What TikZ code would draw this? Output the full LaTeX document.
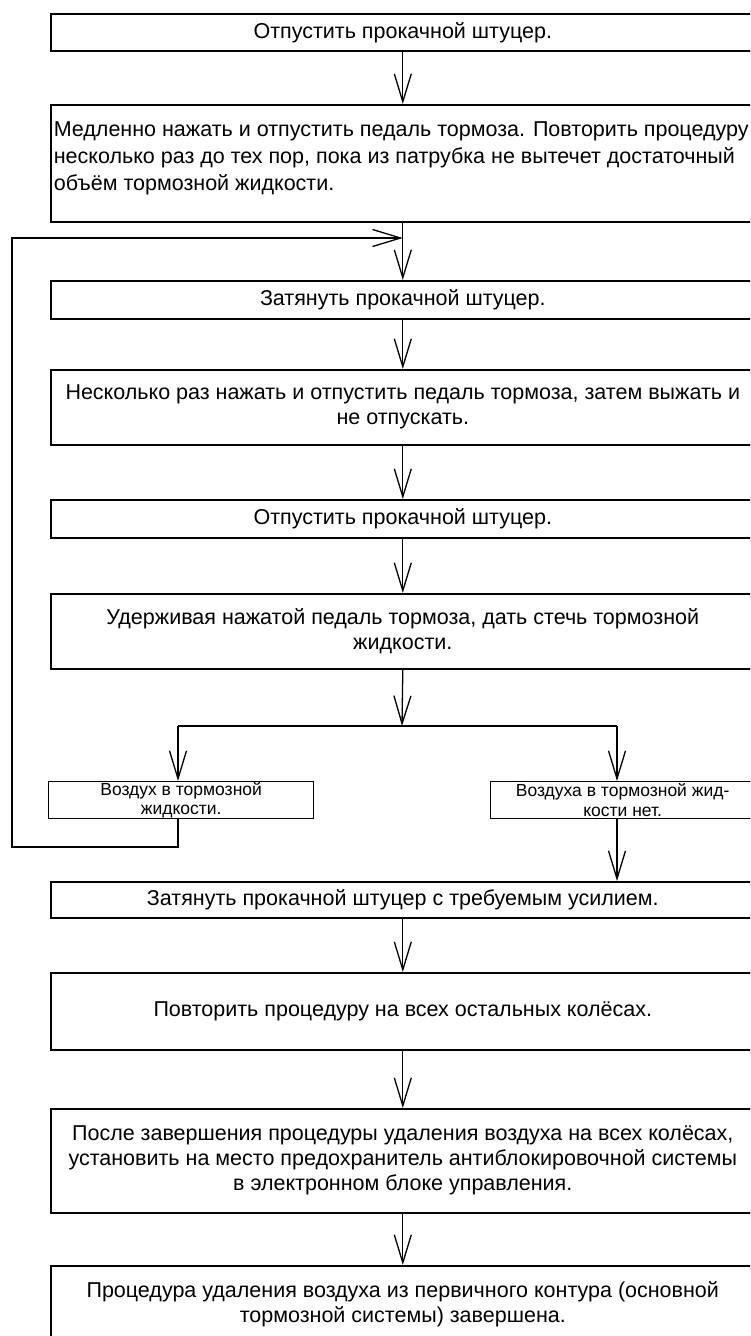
\documentclass[tikz,border=0pt]{standalone}
\usepackage{fontspec}
\setmainfont{Liberation Sans}
\usetikzlibrary{arrows.meta}
\hfuzz=200pt
\begin{document}
\begin{tikzpicture}[x=1pt,y=-1pt,
  box/.style={draw=black, line width=1.6pt, rectangle, anchor=north west, inner sep=0pt,
    minimum width=704pt, font=\fontsize{21.5}{25}\selectfont, align=center},
  sbox/.style={box, line width=1.3pt, font=\fontsize{17.5}{19.5}\selectfont},
  ln/.style={line width=1.3pt},
  conn/.style={ln, -{Straight Barb[length=28pt,width=17pt,line width=1.3pt]}}]
\useasboundingbox (0,0) rectangle (750,1336);
\clip (0,0) rectangle (750,1336);
\fill[white] (0,0) rectangle (750,1336);

\node[box, minimum height=37pt] (b1) at (50,13) {Отпустить прокачной штуцер.};
\node[box, minimum height=117pt, inner sep=0pt] (b2) at (50,104)
  {\parbox[c][117pt][t]{698pt}{\fontsize{21.5}{27}\selectfont\vspace*{17pt}%
  \mbox{Медленно нажать и отпустить педаль тормоза. Повторить процедуру}\\
  \mbox{несколько раз до тех пор, пока из патрубка не вытечет достаточный}\\
  \mbox{объём тормозной жидкости.}}};
\node[box, minimum height=38pt] (b3) at (50,280) {Затянуть прокачной штуцер.};
\node[box, minimum height=75pt] (b4) at (50,369) {Несколько раз нажать и отпустить педаль тормоза, затем выжать и\\ не отпускать.};
\node[box, minimum height=38pt] (b5) at (50,499) {Отпустить прокачной штуцер.};
\node[box, minimum height=75pt] (b6) at (50,593) {Удерживая нажатой педаль тормоза, дать стечь тормозной\\ жидкости.};
\node[sbox, minimum width=265pt, minimum height=37pt] (sl) at (48,781) {Воздух в тормозной\\ жидкости.};
\node[sbox, minimum width=264pt, minimum height=37pt] (sr) at (490,781) {Воздуха в тормозной жид-\\ кости нет.};
\node[box, minimum height=36pt] (b7) at (50,881) {Затянуть прокачной штуцер с требуемым усилием.};
\node[box, minimum height=77pt] (b8) at (50,972) {Повторить процедуру на всех остальных колёсах.};
\node[box, minimum height=104pt] (b9) at (50,1108) {После завершения процедуры удаления воздуха на всех колёсах,\\ установить на место предохранитель антиблокировочной системы\\ в электронном блоке управления.};
\node[box, minimum height=76pt] (b10) at (50,1265) {Процедура удаления воздуха из первичного контура (основной\\ тормозной системы) завершена.};

\coordinate (br) at (402,726);
\coordinate (bl) at (178,726);
\coordinate (brr) at (617,726);
\coordinate (fbl) at (12,847);
\coordinate (fbt) at (12,238);

\draw[conn] (b1.south) -- (b2.north);
\draw[conn] (b2.south) -- (b3.north);
\draw[conn] (b3.south) -- (b4.north);
\draw[conn] (b4.south) -- (b5.north);
\draw[conn] (b5.south) -- (b6.north);
\draw[conn] (b6.south) -- (br);
\draw[ln] (bl) -- (brr);
\draw[conn] (bl) -- (bl |- sl.north);
\draw[conn] (brr) -- (brr |- sr.north);
\draw[conn] (sl.south -| bl) |- (fbl) -- (fbt) -- (fbt -| b2.south);
\draw[conn] (sr.south -| brr) -- (brr |- b7.north);
\draw[conn] (b7.south) -- (b8.north);
\draw[conn] (b8.south) -- (b9.north);
\draw[conn] (b9.south) -- (b10.north);
\end{tikzpicture}
\end{document}
